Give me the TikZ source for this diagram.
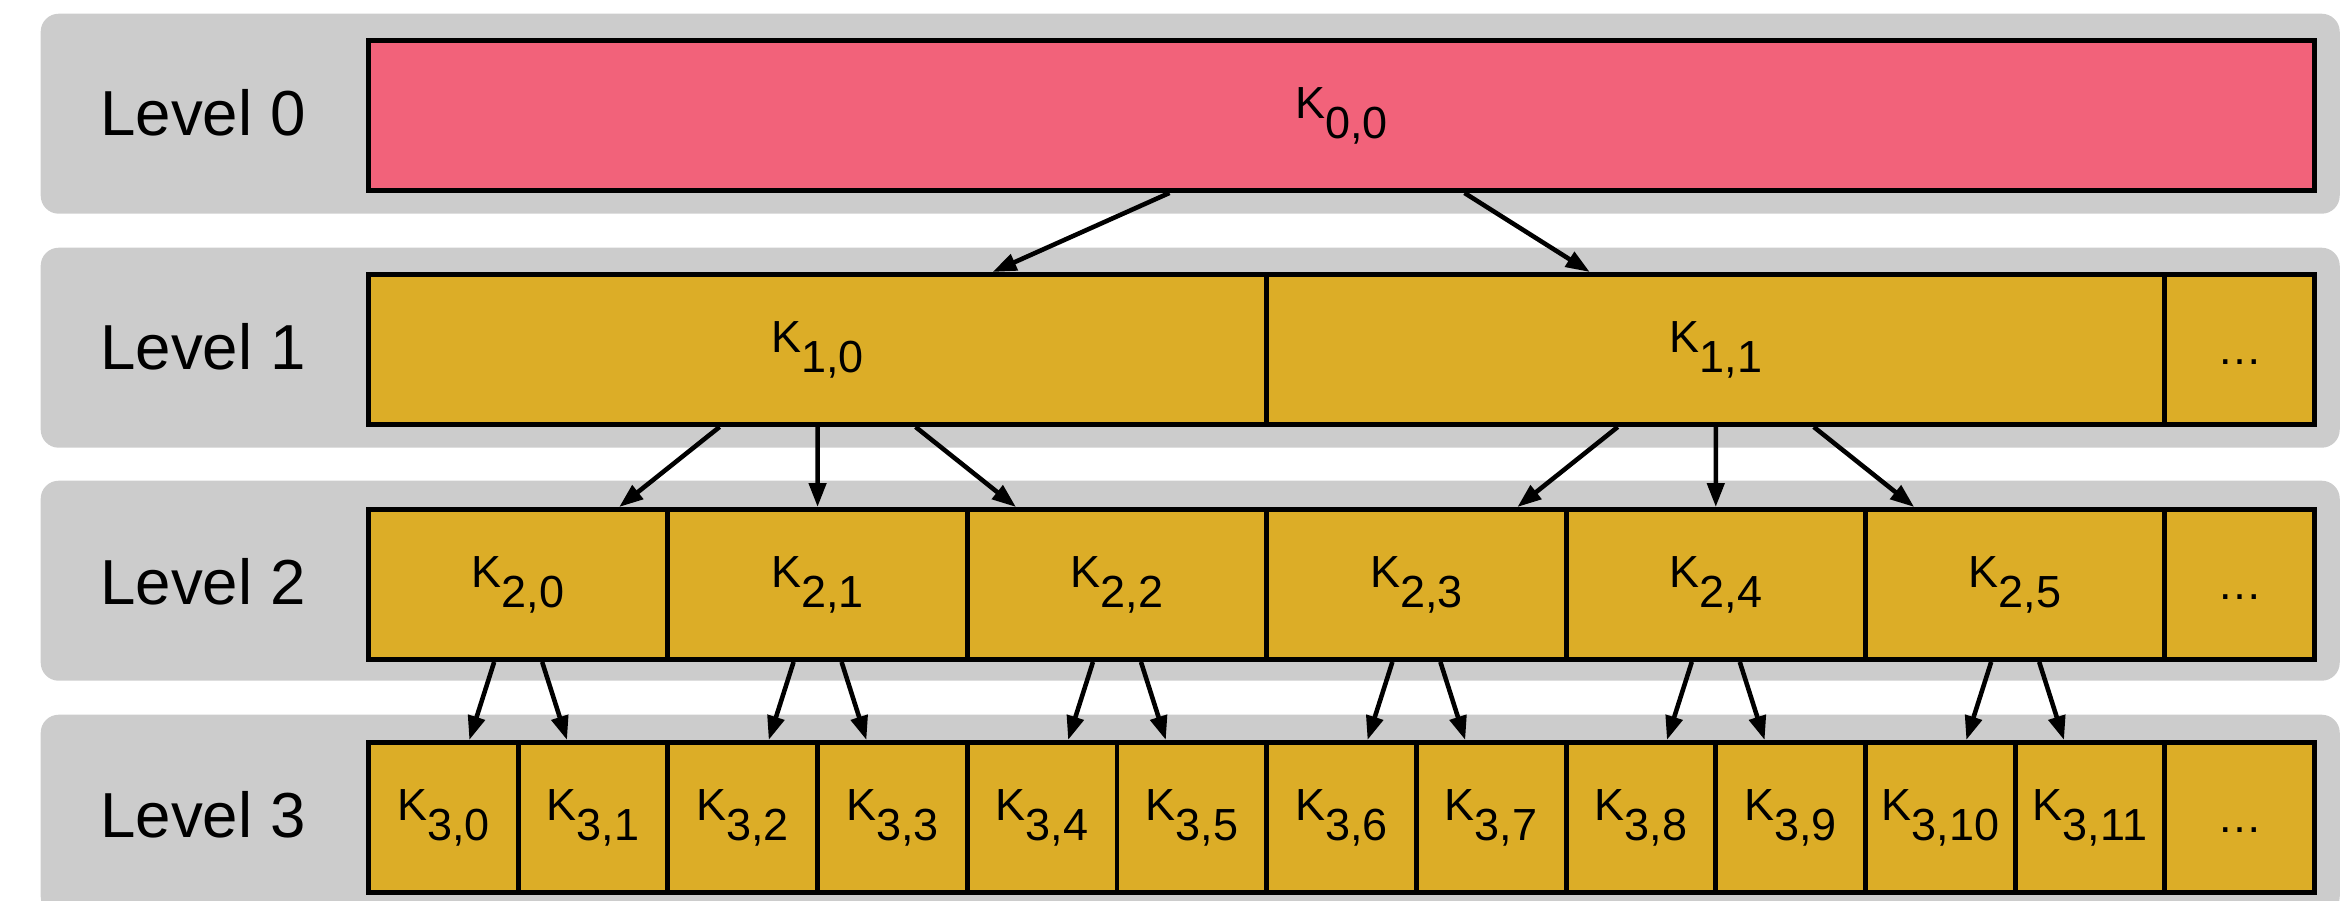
\documentclass[tikz,border=0pt]{standalone}
\usepackage{fontspec}
\setmainfont{Liberation Sans}
\usepackage{xcolor}
\usepackage{tikz}
\usetikzlibrary{positioning,arrows.meta}

\definecolor{bandgray}{HTML}{CCCCCC}
\definecolor{rootpink}{HTML}{F2627A}
\definecolor{keygold}{HTML}{DCAD27}

% key label: K with a lowered, full size index
\newcommand{\kname}[1]{K\raisebox{-0.2cm}{#1}}

\begin{document}
\begin{tikzpicture}[
    band/.style={fill=bandgray, rounded corners=0.18cm, minimum height=2cm,
        minimum width=22.99cm, anchor=north west, inner sep=0},
    lvl/.style={font=\fontsize{18.1pt}{20pt}\selectfont},
    cell/.style={draw, line width=1.4pt, fill=keygold, minimum height=1.5cm,
        anchor=north west, inner sep=0, font=\fontsize{12.8pt}{14pt}\selectfont},
    conn/.style={line width=1.3pt, -{Triangle[length=0.24cm,width=0.17cm]}}
]
    \useasboundingbox (0,0) rectangle (23.51,-9);

    % grey bands behind each level
    \node[band] (band0) at (0.40,-0.13) {};
    \node[band] (band1) at (0.40,-2.47) {};
    \node[band] (band2) at (0.40,-4.80) {};
    \node[band] (band3) at (0.40,-7.14) {};

    \node[lvl] (lv0) at (2.03,-1.13) {Level 0};
    \node[lvl] (lv1) at (2.03,-3.47) {Level 1};
    \node[lvl] (lv2) at (2.03,-5.82) {Level 2};
    \node[lvl] (lv3) at (2.03,-8.15) {Level 3};

    % level 0
    \node[cell, fill=rootpink, minimum width=19.46cm] (k00) at (3.66,-0.38) {\kname{0,0}};

    % level 1
    \node[cell, minimum width=8.982cm] (k10) at (3.66,-2.72) {\kname{1,0}};
    \node[cell, minimum width=8.982cm] (k11) at (12.642,-2.72) {\kname{1,1}};
    \node[cell, minimum width=1.497cm] (k1d) at (21.624,-2.72) {\vphantom{K}…};

    % level 2
    \foreach \i in {0,...,5}
        \node[cell, minimum width=2.994cm] (k2\i) at ({3.66+2.994*\i},-5.07) {\kname{2,\i}};
    \node[cell, minimum width=1.497cm] (k2d) at (21.624,-5.07) {\vphantom{K}…};

    % level 3
    \foreach \i in {0,...,11}
        \node[cell, minimum width=1.497cm] (k3\i) at ({3.66+1.497*\i},-7.40) {\kname{3,\i}};
    \node[cell, minimum width=1.497cm] (k3d) at (21.624,-7.40) {\vphantom{K}…};

    % root to level 1
    \draw[conn] ([xshift=-1.72cm]k00.south) -- ([xshift=1.75cm]k10.north);
    \draw[conn] ([xshift=1.23cm]k00.south) -- ([xshift=-1.26cm]k11.north);

    % level 1 to level 2
    \draw[conn] ([xshift=-0.98cm]k10.south) -- ([xshift=1.01cm]k20.north);
    \draw[conn] (k10.south) -- (k21.north);
    \draw[conn] ([xshift=0.98cm]k10.south) -- ([xshift=-1.01cm]k22.north);
    \draw[conn] ([xshift=-0.98cm]k11.south) -- ([xshift=1.01cm]k23.north);
    \draw[conn] (k11.south) -- (k24.north);
    \draw[conn] ([xshift=0.98cm]k11.south) -- ([xshift=-1.01cm]k25.north);

    % level 2 to level 3
    \foreach \i in {0,...,5} {
        \pgfmathtruncatemacro{\l}{2*\i}
        \pgfmathtruncatemacro{\r}{2*\i+1}
        \draw[conn] ([xshift=-0.24cm]k2\i.south) -- ([xshift=0.26cm]k3\l.north);
        \draw[conn] ([xshift=0.24cm]k2\i.south) -- ([xshift=-0.26cm]k3\r.north);
    }
\end{tikzpicture}
\end{document}
